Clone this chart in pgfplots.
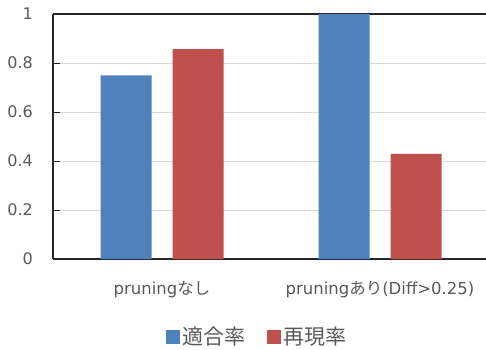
\documentclass[border=0pt]{standalone}
\usepackage{fontspec}
\usepackage{pgfplots}
\pgfplotsset{compat=1.18}
\setmainfont{DejaVu Sans}
\newfontfamily\jp{Noto Sans CJK JP}
\definecolor{barblue}{HTML}{4F81BD}
\definecolor{barred}{HTML}{C0504D}
\definecolor{gridgray}{HTML}{D9D9D9}
\definecolor{textgray}{HTML}{595959}
\definecolor{axisdark}{HTML}{262626}

\begin{document}
\begin{tikzpicture}
\begin{axis}[
  scale only axis, width=436pt, height=245pt,
  ybar=21pt, bar width=51pt,
  xmin=-0.5, xmax=1.5, ymin=0, ymax=1,
  xtick={0,1},
  xticklabels={{pruning{\jp なし}}, {pruning{\jp あり}(Diff>0.25)}},
  ytick={0,0.2,0.4,0.6,0.8},
  yticklabels={0,0.2,0.4,0.6,0.8},
  extra y ticks={1}, extra y tick labels={1},
  extra y tick style={grid style={axisdark, line width=1.3pt}},
  axis x line*=bottom, axis y line*=left,
  axis line style={axisdark, line width=1.3pt},
  ymajorgrids, grid style={gridgray, line width=1pt},
  tick align=inside, major tick length=7pt,
  y tick style={axisdark, line width=1pt},
  x tick style={draw=none},
  tick label style={text=textgray},
  yticklabel style={font=\fontsize{16}{19}\selectfont, anchor=east, inner sep=0pt, xshift=-20pt},
  xticklabel style={font=\fontsize{16.5}{19}\selectfont, anchor=base, inner sep=0pt, yshift=-35pt},
  legend style={at={(axis description cs:0.468,-0.318)}, anchor=center,
    draw=none, fill=none, legend columns=-1, inner sep=0pt,
    font=\jp\fontsize{21}{25}\selectfont, text=textgray,
    /tikz/every even column/.append style={column sep=20pt}},
  legend image code/.code={\fill[#1] (0pt,-7pt) rectangle (14pt,7pt);},
]
\addplot[fill=barblue, draw=none] coordinates {(0,0.75) (1,1.0)};
\addlegendentry{適合率}
\addplot[fill=barred, draw=none] coordinates {(0,0.857) (1,0.429)};
\addlegendentry{再現率}
\end{axis}
\pgfresetboundingbox
\useasboundingbox (-53pt,-90pt) rectangle (433pt,259pt);
\end{tikzpicture}
\end{document}
